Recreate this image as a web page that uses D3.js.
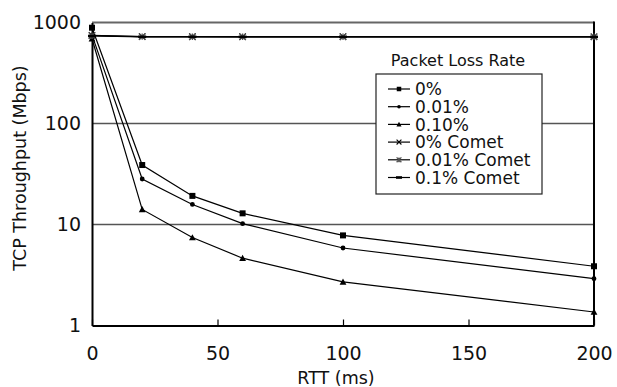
<!DOCTYPE html>
<html><head><meta charset="utf-8">
<script src="https://cdn.jsdelivr.net/npm/d3@7"></script>
<style>body{margin:0;background:#fff}svg{display:block}text{font-family:"DejaVu Sans",sans-serif;fill:#111}</style>
</head><body><svg id="c" width="617" height="387"></svg>
<script>
const rtt = [0, 20, 40, 60, 100, 200];
const loss0 = [888, 38.8, 19.2, 12.9, 7.8, 3.86];
const loss001 = [750, 28.2, 15.8, 10.2, 5.85, 2.91];
const loss010 = [690, 14.1, 7.43, 4.64, 2.70, 1.36];
const comet0 = [745, 726, 725, 724, 724, 723];
const comet001 = [740, 724, 723, 722, 722, 722];
const comet01 = [735, 722, 722, 721, 721, 720];
const seriesNames = ["0%", "0.01%", "0.10%", "0% Comet", "0.01% Comet", "0.1% Comet"];
const xTicks = [0, 50, 100, 150, 200];
const yTicks = [1, 10, 100, 1000];
const legendTitle = "Packet Loss Rate";
const xTitle = "RTT (ms)";
const yTitle = "TCP Throughput (Mbps)";

const series = [
  {name: seriesNames[0], values: loss0, marker: "square"},
  {name: seriesNames[1], values: loss001, marker: "dot"},
  {name: seriesNames[2], values: loss010, marker: "triangle"},
  {name: seriesNames[3], values: comet0, marker: "cross"},
  {name: seriesNames[4], values: comet001, marker: "star"},
  {name: seriesNames[5], values: comet01, marker: "dash"}
];

const svg = d3.select("#c");
const L = 92, R = 594, T = 22.5, B = 325.5;
const x = d3.scaleLinear().domain([0, 200]).range([L, R]);
const y = d3.scaleLog().domain([1, 1000]).range([B, T]);

// gridlines
svg.append("g").selectAll("line").data([10, 100]).join("line")
  .attr("x1", L).attr("x2", R).attr("y1", d => y(d)).attr("y2", d => y(d))
  .attr("stroke", "#555").attr("stroke-width", 1.3);
// top border (1000)
svg.append("line").attr("x1", L).attr("x2", R).attr("y1", y(1000)).attr("y2", y(1000))
  .attr("stroke", "#666").attr("stroke-width", 2);
// right border
svg.append("line").attr("x1", R).attr("x2", R).attr("y1", y(1000) - 1).attr("y2", B)
  .attr("stroke", "#000").attr("stroke-width", 2);

// x axis
const xa = svg.append("g").attr("transform", `translate(0,${B})`)
  .call(d3.axisBottom(x).tickValues(xTicks).tickFormat(d3.format("d")).tickSizeInner(-6).tickSizeOuter(0).tickPadding(21));
xa.select(".domain").attr("stroke", "#000").attr("stroke-width", 2);
xa.selectAll(".tick line").attr("stroke", "#000").attr("stroke-width", 1.2);
xa.selectAll("text").attr("font-size", 19).attr("font-family", "DejaVu Sans").attr("fill", "#111");

// y axis
const ya = svg.append("g").attr("transform", `translate(${L},0)`)
  .call(d3.axisLeft(y).tickValues(yTicks).tickFormat(d3.format("d")).tickSizeInner(0).tickSizeOuter(0).tickPadding(11));
ya.select(".domain").attr("stroke", "#000").attr("stroke-width", 2);
ya.selectAll("text").attr("font-size", 19).attr("font-family", "DejaVu Sans").attr("fill", "#111");

// titles
svg.append("text").attr("x", 336).attr("y", 384).attr("text-anchor", "middle")
  .attr("font-size", 17.5).text(xTitle);
svg.append("text").attr("transform", "translate(26,168) rotate(-90)").attr("text-anchor", "middle")
  .attr("font-size", 17.5).text(yTitle);

function drawMarker(g, type, cx, cy, s) {
  if (type === "square") {
    g.append("rect").attr("x", cx - 3 * s).attr("y", cy - 3 * s).attr("width", 6 * s).attr("height", 6 * s).attr("fill", "#000");
  } else if (type === "dot") {
    g.append("circle").attr("cx", cx).attr("cy", cy).attr("r", 2.4 * s).attr("fill", "#000");
  } else if (type === "triangle") {
    const h = 3.4 * s;
    g.append("path").attr("d", `M${cx},${cy - h}L${cx + h},${cy + h * 0.8}L${cx - h},${cy + h * 0.8}Z`).attr("fill", "#000");
  } else if (type === "cross") {
    const h = 3.2 * s;
    g.append("path").attr("d", `M${cx - h},${cy - h}L${cx + h},${cy + h}M${cx - h},${cy + h}L${cx + h},${cy - h}`).attr("stroke", "#000").attr("stroke-width", 1.1);
  } else if (type === "star") {
    const h = 3.2 * s;
    g.append("path").attr("d", `M${cx - h},${cy - h}L${cx + h},${cy + h}M${cx - h},${cy + h}L${cx + h},${cy - h}M${cx},${cy - h}L${cx},${cy + h}`).attr("stroke", "#555").attr("stroke-width", 1.3);
  } else if (type === "dash") {
    g.append("rect").attr("x", cx - 4 * s).attr("y", cy - 1.3).attr("width", 8 * s).attr("height", 2.6).attr("fill", "#000");
  }
}

const line = d3.line().x(d => x(d[0])).y(d => y(d[1]));
const plot = svg.append("g");
series.forEach(s => {
  const pts = rtt.map((r, i) => [r, s.values[i]]);
  plot.append("path").attr("d", line(pts)).attr("fill", "none").attr("stroke", "#000").attr("stroke-width", 1.2);
});
series.forEach(s => {
  const g = plot.append("g");
  rtt.forEach((r, i) => drawMarker(g, s.marker, x(r), y(s.values[i]), 1));
});

// legend
svg.append("text").attr("x", 458).attr("y", 66).attr("text-anchor", "middle").attr("font-size", 16).text(legendTitle);
const lg = svg.append("g");
lg.append("rect").attr("x", 376).attr("y", 74).attr("width", 166).attr("height", 120)
  .attr("fill", "#fff").attr("stroke", "#222").attr("stroke-width", 1.2);
series.forEach((s, i) => {
  const cy = 89 + i * 17.7;
  lg.append("line").attr("x1", 388).attr("x2", 410).attr("y1", cy).attr("y2", cy).attr("stroke", "#000").attr("stroke-width", 1.2);
  drawMarker(lg, s.marker, 399, cy, 0.75);
  lg.append("text").attr("x", 415).attr("y", cy).attr("dy", "0.36em").attr("font-size", 17).text(s.name);
});
</script></body></html>
